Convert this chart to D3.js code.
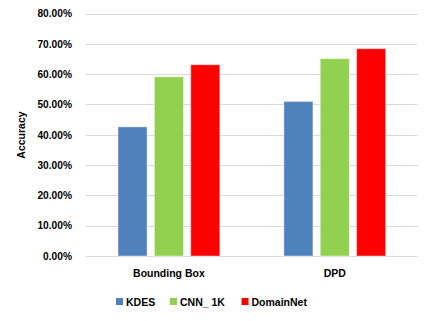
<!DOCTYPE html>
<html>
<head>
<meta charset="utf-8">
<script src="https://cdn.jsdelivr.net/npm/d3@7"></script>
<style>
body { margin: 0; background: #fff; }
text { font-family: "Liberation Sans", Arial, sans-serif; font-weight: bold; fill: #000; }
</style>
</head>
<body>
<svg id="chart" width="428" height="321"></svg>
<script>
var categories = ["Bounding Box", "DPD"];
var seriesNames = ["KDES", "CNN_ 1K", "DomainNet"];
var kdes = [0.426, 0.510];
var cnn1k = [0.591, 0.651];
var domainNet = [0.631, 0.684];
var yTicks = [0, 0.1, 0.2, 0.3, 0.4, 0.5, 0.6, 0.7, 0.8];
var colors = ["#4F81BD", "#92D050", "#FF0000"];

var values = [kdes, cnn1k, domainNet];
var data = categories.map(function(c, i) {
  return { cat: c, vals: values.map(function(s, j) { return { key: seriesNames[j], v: s[i] }; }) };
});

var svg = d3.select("#chart"),
    margin = {top: 13.5, right: 10.3, bottom: 65, left: 86},
    width = +svg.attr("width"),
    height = +svg.attr("height");

var x = d3.scaleBand()
    .domain(categories)
    .range([margin.left, width - margin.right]);

var x1 = d3.scaleBand()
    .domain(seriesNames)
    .range([0, x.bandwidth()])
    .paddingInner(0.2)
    .paddingOuter(0.88);

var y = d3.scaleLinear()
    .domain([0, 0.8])
    .range([256, margin.top]);

var fmt = d3.format(".2%");

// gridlines
svg.append("g")
  .selectAll("line")
  .data(yTicks)
  .enter().append("line")
    .attr("x1", margin.left)
    .attr("x2", width - margin.right)
    .attr("y1", function(d) { return Math.round(y(d)) + 0.5; })
    .attr("y2", function(d) { return Math.round(y(d)) + 0.5; })
    .attr("stroke", "#D9D9D9")
    .attr("stroke-width", 1);

// y axis labels
var yAxis = svg.append("g")
    .attr("transform", "translate(" + margin.left + ",0)")
    .call(d3.axisLeft(y).tickValues(yTicks).tickFormat(fmt).tickSize(0).tickPadding(14));
yAxis.select(".domain").remove();
yAxis.selectAll("text")
    .attr("font-size", 10.2)
    .attr("font-family", "Liberation Sans, Arial, sans-serif")
    .attr("font-weight", "bold")
    .attr("fill", "#000");

// bars
svg.append("g")
  .selectAll("g")
  .data(data)
  .enter().append("g")
    .attr("transform", function(d) { return "translate(" + x(d.cat) + ",0)"; })
  .selectAll("rect")
  .data(function(d) { return d.vals; })
  .enter().append("rect")
    .attr("x", function(d) { return x1(d.key); })
    .attr("y", function(d) { return y(d.v); })
    .attr("width", x1.bandwidth())
    .attr("height", function(d) { return y(0) - y(d.v); })
    .attr("fill", function(d, i) { return colors[i]; })
    .attr("stroke", "rgba(255,255,255,0.45)")
    .attr("stroke-width", 1);

// x axis labels
var xAxis = svg.append("g")
    .attr("transform", "translate(0," + y(0) + ")")
    .call(d3.axisBottom(x).tickSize(0).tickPadding(14));
xAxis.select(".domain").remove();
xAxis.selectAll("text")
    .attr("font-size", 10.5)
    .attr("font-family", "Liberation Sans, Arial, sans-serif")
    .attr("font-weight", "bold")
    .attr("fill", "#000");

// y axis title
svg.append("text")
    .attr("transform", "translate(25,135) rotate(-90)")
    .attr("text-anchor", "middle")
    .attr("font-size", 10.5)
    .text("Accuracy");

// legend
var legendX = [116, 170, 241.5];
var legend = svg.append("g")
  .selectAll("g")
  .data(seriesNames)
  .enter().append("g")
    .attr("transform", function(d, i) { return "translate(" + legendX[i] + ",298)"; });
legend.append("rect")
    .attr("width", 7)
    .attr("height", 7)
    .attr("fill", function(d, i) { return colors[i]; });
legend.append("text")
    .attr("x", 10)
    .attr("y", 7.5)
    .attr("font-size", 10.5)
    .text(function(d) { return d; });
</script>
</body>
</html>
